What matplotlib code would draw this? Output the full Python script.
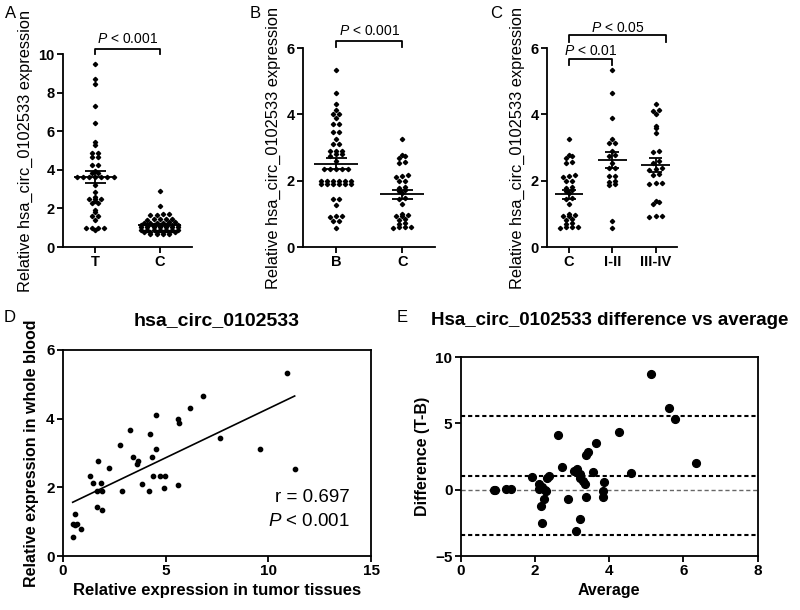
import numpy as np
import matplotlib
matplotlib.use("Agg")
import matplotlib.pyplot as plt

plt.rcParams['font.family'] = ['Liberation Sans', 'DejaVu Sans']
plt.rcParams['mathtext.fontset'] = 'custom'
plt.rcParams['mathtext.rm'] = 'Liberation Sans'
plt.rcParams['mathtext.it'] = 'Liberation Sans:italic'

# Panel A: tumor tissue (T) vs adjacent control (C)
a_labels = ['T', 'C']
a_tumor = [9.52, 8.74, 8.45, 7.34, 6.44, 5.46, 5.28, 4.9, 4.9, 4.68, 4.68,
           4.25, 4.25, 3.95, 3.85, 3.85, 3.65, 3.65, 3.65, 3.65, 3.65, 3.65,
           3.65, 3.2, 2.87, 2.6, 2.5, 2.5, 2.5, 2.4, 2.26, 2.26, 1.92, 1.8,
           1.6, 1.6, 1.4, 1.0, 1.0, 1.0, 1.0, 0.9]
a_ctrl = [2.92, 2.14, 1.70, 1.70, 1.68, 1.66, 1.47, 1.45, 1.45, 1.43, 1.42,
          1.30, 1.28, 1.27, 1.27, 1.25, 1.25, 1.12, 1.12, 1.12, 1.12, 1.12,
          1.12, 1.12, 1.02, 1.02, 1.02, 1.02, 1.02, 1.02, 1.02, 0.9, 0.9,
          0.9, 0.9, 0.9, 0.9, 0.9, 0.78, 0.78, 0.78, 0.78, 0.78, 0.78, 0.7,
          0.7, 0.7, 0.7]

# Panel B: whole blood of patients (B) vs controls (C)
b_labels = ['B', 'C']
b_blood = [5.35, 4.66, 4.32, 4.13, 4.0, 4.0, 3.9, 3.72, 3.72, 3.48, 3.48,
           3.25, 3.12, 3.12, 2.9, 2.9, 2.9, 2.8, 2.8, 2.75, 2.6, 2.35, 2.35,
           2.35, 2.35, 2.35, 2.0, 2.0, 2.0, 2.0, 2.0, 2.0, 1.9, 1.9, 1.9,
           1.9, 1.9, 1.9, 1.45, 1.45, 1.28, 0.95, 0.95, 0.92, 0.8, 0.8, 0.58]
b_ctrl = [3.25, 2.78, 2.76, 2.7, 2.57, 2.55, 2.17, 2.15, 2.12, 2.0, 1.98,
          1.82, 1.78, 1.72, 1.7, 1.62, 1.48, 1.45, 1.3, 1.0, 0.98, 0.95,
          0.93, 0.85, 0.83, 0.72, 0.7, 0.62, 0.6, 0.6, 0.58]

# Panel C: controls vs TNM stage
c_labels = ['C', 'I-II', 'III-IV']
c_stage12 = [5.33, 4.66, 3.9, 3.25, 3.15, 3.13, 2.9, 2.78, 2.75, 2.55, 2.4,
             2.4, 2.15, 2.13, 2.0, 1.95, 1.9, 1.88, 0.8, 0.57]
c_stage34 = [4.32, 4.12, 4.1, 4.0, 3.65, 3.58, 3.45, 2.9, 2.88, 2.6, 2.55,
             2.38, 2.35, 2.33, 2.2, 2.18, 1.93, 1.92, 1.9, 1.4, 1.35, 1.3,
             0.95, 0.93, 0.92]

# Panel D: tissue vs blood correlation
d_tissue = [10.9, 6.82, 6.2, 4.55, 5.6, 5.67, 3.25, 4.22, 7.65, 2.79, 4.55,
            9.58, 3.39, 4.32, 3.65, 3.59, 1.69, 2.24, 11.28, 1.33, 4.37,
            4.74, 4.95, 1.44, 1.85, 3.85, 5.62, 4.9, 1.66, 1.9, 2.87, 4.19,
            1.66, 1.88, 0.6, 0.5, 0.6, 0.68, 0.89, 0.47]
d_blood = [5.34, 4.66, 4.30, 4.11, 3.99, 3.88, 3.67, 3.55, 3.44, 3.23, 3.12,
           3.12, 2.88, 2.88, 2.77, 2.67, 2.76, 2.55, 2.54, 2.33, 2.34, 2.34,
           2.34, 2.12, 2.12, 2.11, 2.08, 1.99, 1.89, 1.89, 1.89, 1.89, 1.42,
           1.35, 1.23, 0.93, 0.91, 0.93, 0.80, 0.56]
d_stats = ['r = 0.697', r'$\mathit{P}$ < 0.001']

# Panel E: Bland-Altman
e_avg = [5.14, 5.62, 5.78, 4.27, 2.61, 3.65, 3.42, 3.38, 6.33, 2.72, 3.06,
         3.12, 3.55, 4.6, 1.91, 2.39, 2.33, 3.2, 3.22, 3.29, 3.35, 2.1, 2.18,
         2.27, 2.1, 3.87, 0.89, 0.93, 1.22, 1.34, 3.82, 3.82, 3.38, 2.9,
         2.23, 2.16, 3.21, 2.19, 3.1, 2.3]
e_diff = [8.72, 6.16, 5.30, 4.35, 4.12, 3.52, 2.86, 2.59, 2.01, 1.68, 1.41,
          1.53, 1.36, 1.28, 0.95, 1.00, 0.88, 1.21, 0.9, 0.63, 0.43, 0.43,
          0.2, -0.03, 0.03, 0.6, -0.05, -0.05, 0.03, 0.03, -0.08, -0.58,
          -0.58, -0.68, -0.68, -1.21, -2.19, -2.51, -3.12, -0.1]

ylab = 'Relative hsa_circ_0102533 expression'
p001 = r'$\mathit{P}$ < 0.001'
LW = 1.3


def row_offsets(vals, tol, step):
    # GraphPad-like rows: near-equal values are spread side by side
    vals = np.asarray(vals, float)
    order = np.argsort(vals)
    offs = np.zeros(len(vals))
    rows, cur = [], [order[0]]
    for idx in order[1:]:
        if vals[idx] - vals[cur[0]] < tol:
            cur.append(idx)
        else:
            rows.append(cur)
            cur = [idx]
    rows.append(cur)
    for r in rows:
        n = len(r)
        for k, idx in enumerate(r):
            offs[idx] = (k - (n - 1) / 2) * step
    return offs


def dot_panel(ax, groups, labels, ymax, tol, step):
    for i, vals in enumerate(groups):
        v = np.asarray(vals, float)
        x = i + row_offsets(v, tol, step)
        ax.plot(x, v, 'D', ms=2.2, color='black', ls='none', clip_on=False)
        m = v.mean()
        se = v.std(ddof=1) / np.sqrt(len(v))
        ax.hlines(m, i - 0.33, i + 0.33, color='black', lw=LW)
        ax.hlines([m - se, m + se], i - 0.16, i + 0.16, color='black', lw=LW)
        ax.vlines(i, m - se, m + se, color='black', lw=LW)
    ax.set_xlim(-0.5, len(groups) - 0.5)
    ax.set_ylim(0, ymax)
    ax.set_yticks(np.arange(0, ymax + 1, 2))
    ax.set_xticks(range(len(groups)))
    ax.set_xticklabels(labels)
    for s in ['top', 'right']:
        ax.spines[s].set_visible(False)
    for s in ['left', 'bottom']:
        ax.spines[s].set_linewidth(LW)
    ax.tick_params(direction='out', length=4, width=LW, labelsize=10.5, pad=2)
    for t in ax.get_xticklabels() + ax.get_yticklabels():
        t.set_fontweight('bold')
    ax.set_ylabel(ylab, fontsize=11.8, labelpad=4)


def bracket(ax, x0, x1, y, drop, text, ty):
    ax.plot([x0, x0, x1, x1], [y - drop, y, y, y - drop], color='black',
            lw=LW, clip_on=False)
    ax.text((x0 + x1) / 2, ty, text, ha='center', va='center', fontsize=10)


fig = plt.figure(figsize=(8, 6.1), dpi=100)

axA = fig.add_axes([0.0788, 0.595, 0.161, 0.316])
dot_panel(axA, [a_tumor, a_ctrl], a_labels, 10, 0.06, 0.095)
bracket(axA, 0, 1, 10.3, 0.26, p001, 10.78)

axB = fig.add_axes([0.379, 0.595, 0.165, 0.326])
dot_panel(axB, [b_blood, b_ctrl], b_labels, 6, 0.06, 0.092)
bracket(axB, 0, 1, 6.22, 0.18, p001, 6.52)

axC = fig.add_axes([0.684, 0.595, 0.1625, 0.326])
dot_panel(axC, [b_ctrl, c_stage12, c_stage34], c_labels, 6, 0.06, 0.14)
bracket(axC, 0, 1, 5.66, 0.18, r'$\mathit{P}$ < 0.01', 5.93)
bracket(axC, 0, 2.25, 6.39, 0.2, r'$\mathit{P}$ < 0.05', 6.62)

# Panel D
axD = fig.add_axes([0.0788, 0.0885, 0.385, 0.338])
xd = np.asarray(d_tissue)
yd = np.asarray(d_blood)
axD.plot(xd, yd, 'o', ms=3.1, color='black', ls='none')
k, b0 = np.polyfit(xd, yd, 1)
xs = np.array([xd.min(), xd.max()])
axD.plot(xs, k * xs + b0, color='black', lw=1.2)
axD.set_xlim(0, 15)
axD.set_ylim(0, 6)
axD.set_xticks([0, 5, 10, 15])
axD.set_yticks([0, 2, 4, 6])
axD.text(0.93, 0.285, d_stats[0], transform=axD.transAxes, ha='right',
         va='center', fontsize=13.5)
axD.text(0.93, 0.165, d_stats[1], transform=axD.transAxes, ha='right',
         va='center', fontsize=13.5)
axD.set_title('hsa_circ_0102533', fontweight='bold', fontsize=14, pad=18)
axD.set_xlabel('Relative expression in tumor tissues', fontweight='bold',
               fontsize=12, labelpad=3)
axD.set_ylabel('Relative expression in whole blood', fontweight='bold',
               fontsize=11.5, labelpad=5)

# Panel E
axE = fig.add_axes([0.576, 0.0885, 0.371, 0.326])
xe = np.asarray(e_avg)
ye = np.asarray(e_diff)
bias = ye.mean()
sd = ye.std(ddof=1)
for lvl in [bias + 1.96 * sd, bias, bias - 1.96 * sd]:
    axE.axhline(lvl, color='black', lw=1.5, ls=(0, (2, 1.4)))
axE.axhline(0, color='#666666', lw=1.0, ls=(0, (3, 2)))
axE.plot(xe, ye, 'o', ms=5.6, color='black', ls='none')
axE.set_xlim(0, 8)
axE.set_ylim(-5, 10)
axE.set_xticks([0, 2, 4, 6, 8])
axE.set_yticks([-5, 0, 5, 10])
axE.set_title('Hsa_circ_0102533 difference vs average', fontweight='bold',
              fontsize=13.5, pad=23)
axE.set_xlabel('Average', fontweight='bold', fontsize=11.5, labelpad=3)
axE.set_ylabel('Difference (T-B)', fontweight='bold', fontsize=11.5,
               labelpad=4)

for ax in [axD, axE]:
    for s in ax.spines.values():
        s.set_linewidth(LW)
    ax.tick_params(direction='out', length=4, width=LW, labelsize=11, pad=2)
    for t in ax.get_xticklabels() + ax.get_yticklabels():
        t.set_fontweight('bold')

for letter, (px, py) in zip('ABCDE', [(5, 14), (250, 14), (490, 14),
                                      (4, 318), (397, 318)]):
    fig.text(px / 800, 1 - py / 610, letter, ha='left', va='center',
             fontsize=12)

fig.savefig('out.png', dpi=100, facecolor='white')
